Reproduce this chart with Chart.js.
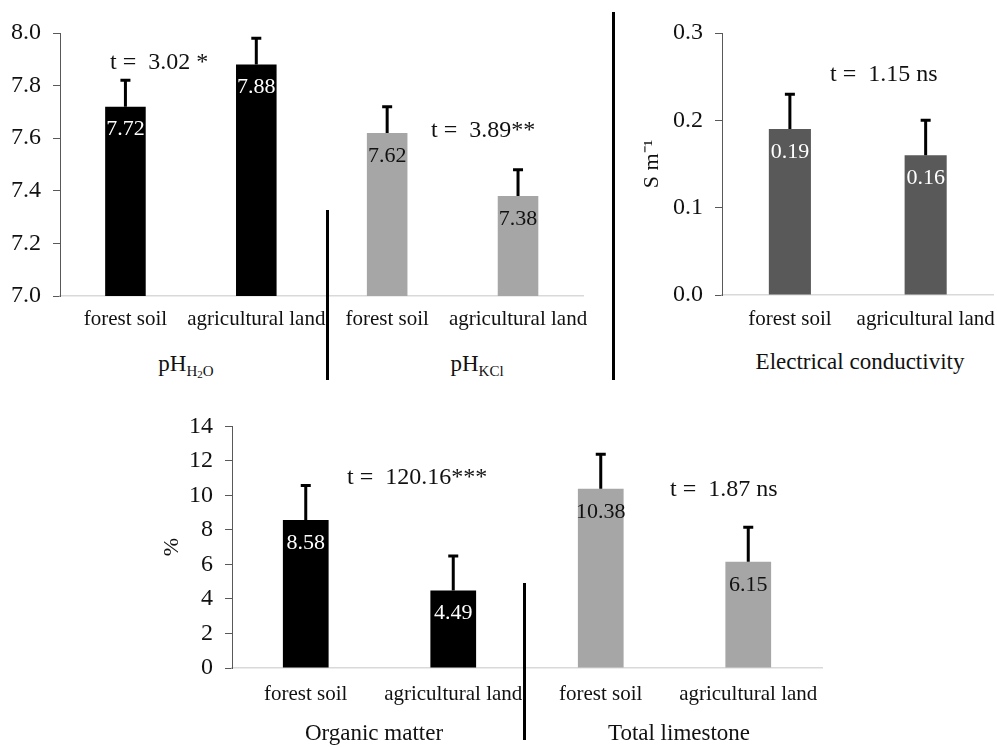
<!DOCTYPE html>
<html>
<head>
<meta charset="utf-8">
<script src="https://cdn.jsdelivr.net/npm/chart.js@4.4.1/dist/chart.umd.min.js"></script>
<style>
  html, body { margin: 0; padding: 0; background: #fff; overflow: hidden; }
  body { width: 997px; height: 747px; position: relative; font-family: "Liberation Serif", "Times New Roman", serif; color: #111; }
  .panel { position: absolute; }
  .txt { position: absolute; white-space: pre; line-height: 1; transform: translateX(-50%); }
  .tlab { font-size: 24px; transform: none; }
  .group { font-size: 23px; }
  .group sub { font-size: 15px; vertical-align: -5px; }
  .group sub sub { font-size: 11px; vertical-align: -2px; }
  .sep { position: absolute; width: 3px; background: #000; }
</style>
</head>
<body>

<div class="panel" style="left:0;top:0;width:600px;height:340px"><canvas id="ph"></canvas></div>
<div class="panel" style="left:620px;top:0;width:390px;height:340px"><canvas id="ec"></canvas></div>
<div class="panel" style="left:140px;top:400px;width:700px;height:347px"><canvas id="om"></canvas></div>

<div class="sep" style="left:326px;top:210px;height:170px"></div>
<div class="sep" style="left:612px;top:12px;height:368px"></div>
<div class="sep" style="left:523px;top:583px;height:157px"></div>

<div class="txt tlab" style="left:110px;top:49px">t =  3.02 *</div>
<div class="txt tlab" style="left:431px;top:117px">t =  3.89**</div>
<div class="txt tlab" style="left:830px;top:61px">t =  1.15 ns</div>
<div class="txt tlab" style="left:347px;top:464px">t =  120.16***</div>
<div class="txt tlab" style="left:670px;top:476px">t =  1.87 ns</div>

<div class="txt group" style="left:186px;top:352px">pH<sub>H<sub>2</sub>O</sub></div>
<div class="txt group" style="left:477px;top:352px">pH<sub>KCl</sub></div>
<div class="txt group" style="left:860px;top:350px">Electrical conductivity</div>
<div class="txt group" style="left:374px;top:721px">Organic matter</div>
<div class="txt group" style="left:679px;top:721px">Total limestone</div>

<script>
const categories = ['forest soil', 'agricultural land'];

const phH2O = [7.72, 7.88];
const phH2OErr = [0.1, 0.1];
const phKCl = [7.62, 7.38];
const phKClErr = [0.1, 0.1];

const ecValues = [0.19, 0.16];
const ecErr = [0.04, 0.04];

const organicMatter = [8.58, 4.49];
const organicErr = [2.0, 2.0];
const limestone = [10.38, 6.15];
const limestoneErr = [2.0, 2.0];

const BLACK = '#000000';
const LIGHT = '#a6a6a6';
const DARK = '#595959';
const FONT = '"Liberation Serif", "Times New Roman", serif';

// error bars + value labels inside bars
const barExtras = {
    id: 'barExtras',
    afterDatasetsDraw(chart) {
        const ctx = chart.ctx;
        const ds = chart.data.datasets[0];
        const meta = chart.getDatasetMeta(0);
        const yScale = chart.scales.y;
        ctx.save();
        meta.data.forEach((bar, i) => {
            const v = ds.data[i];
            const top = yScale.getPixelForValue(v + ds.errors[i]);
            ctx.strokeStyle = '#000';
            ctx.lineWidth = 3;
            ctx.beginPath();
            ctx.moveTo(bar.x, bar.y);
            ctx.lineTo(bar.x, top);
            ctx.moveTo(bar.x - 5, top);
            ctx.lineTo(bar.x + 5, top);
            ctx.stroke();

            ctx.fillStyle = ds.labelColors[i];
            ctx.font = '22px ' + FONT;
            ctx.textAlign = 'center';
            ctx.textBaseline = 'middle';
            ctx.fillText(ds.labelFormat(v), bar.x, bar.y + 23);
        });
        ctx.restore();
    }
};

function makeChart(id, opts) {
    return new Chart(document.getElementById(id), {
        type: 'bar',
        data: {
            labels: opts.labels,
            datasets: [{
                data: opts.data,
                errors: opts.errors,
                backgroundColor: opts.colors,
                labelColors: opts.labelColors,
                labelFormat: opts.labelFormat,
                barPercentage: 0.31,
                categoryPercentage: 1
            }]
        },
        options: {
            responsive: true,
            maintainAspectRatio: false,
            animation: false,
            layout: { padding: opts.padding },
            plugins: { legend: { display: false }, tooltip: { enabled: false } },
            scales: {
                x: {
                    grid: { display: false, drawTicks: false },
                    border: { display: true, color: '#d9d9d9', width: 1.5 },
                    ticks: { color: '#111', font: { family: FONT, size: 21 }, padding: opts.xPad, maxRotation: 0, autoSkip: false },
                    afterFit: s => { s.height = opts.xHeight; }
                },
                y: {
                    min: opts.min,
                    max: opts.max,
                    grid: { drawOnChartArea: false, drawTicks: true, tickLength: 7, color: DARK },
                    border: { display: true, color: DARK, width: 1 },
                    ticks: {
                        stepSize: opts.step,
                        color: '#111',
                        padding: 12,
                        font: { family: FONT, size: 24 },
                        callback: opts.tickFormat
                    },
                    title: opts.yTitle ? {
                        display: true,
                        text: opts.yTitle,
                        color: '#111',
                        font: { family: FONT, size: 22 },
                        padding: { top: 19, bottom: 0 }
                    } : { display: false },
                    afterFit: s => { s.width = opts.yWidth; }
                }
            }
        },
        plugins: [barExtras]
    });
}

makeChart('ph', {
    labels: [...categories, ...categories],
    data: [...phH2O, ...phKCl],
    errors: [...phH2OErr, ...phKClErr],
    colors: [BLACK, BLACK, LIGHT, LIGHT],
    labelColors: ['#fff', '#fff', '#111', '#111'],
    labelFormat: v => v.toFixed(2),
    min: 7, max: 8, step: 0.2,
    tickFormat: v => v.toFixed(1),
    padding: { top: 33, right: 15, bottom: 0, left: 0 },
    xHeight: 44, xPad: 11, yWidth: 60
});

makeChart('ec', {
    labels: categories,
    data: ecValues,
    errors: ecErr,
    colors: [DARK, DARK],
    labelColors: ['#fff', '#fff'],
    labelFormat: v => v.toFixed(2),
    min: 0, max: 0.3, step: 0.1,
    tickFormat: v => v.toFixed(1),
    yTitle: 'S m\u207B\u00B9',
    padding: { top: 33, right: 13, bottom: 0, left: 0 },
    xHeight: 45, xPad: 12, yWidth: 102
});

makeChart('om', {
    labels: [...categories, ...categories],
    data: [...organicMatter, ...limestone],
    errors: [...organicErr, ...limestoneErr],
    colors: [BLACK, BLACK, LIGHT, LIGHT],
    labelColors: ['#fff', '#fff', '#111', '#111'],
    labelFormat: v => v.toFixed(2),
    min: 0, max: 14, step: 2,
    tickFormat: v => String(v),
    yTitle: '%',
    padding: { top: 21, right: 18, bottom: 0, left: 0 },
    xHeight: 79, xPad: 14, yWidth: 92
});
</script>
</body>
</html>
